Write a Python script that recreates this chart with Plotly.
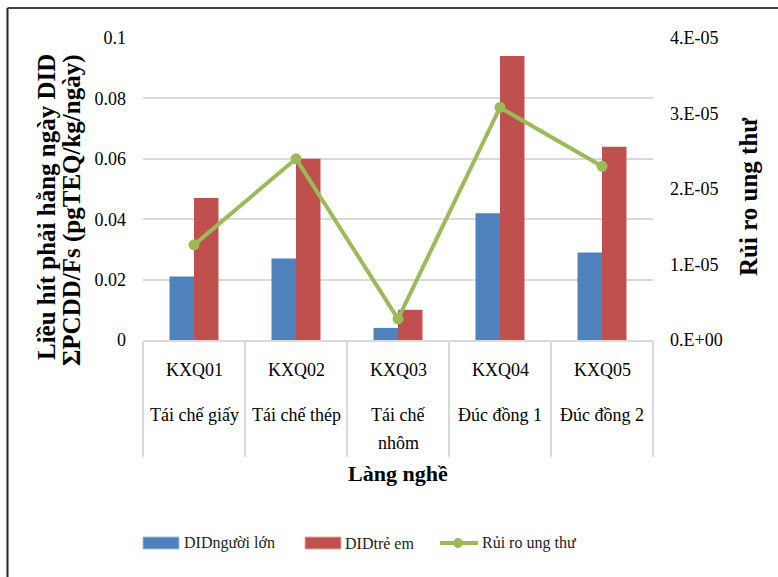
import plotly.graph_objects as go

# Sampling sites and the craft village each belongs to
sites = ["KXQ01", "KXQ02", "KXQ03", "KXQ04", "KXQ05"]
villages = [["Tái chế giấy"], ["Tái chế thép"], ["Tái chế", "nhôm"], ["Đúc đồng 1"], ["Đúc đồng 2"]]

# Daily inhaled dose (pgTEQ/kg/day)
did_adult = [0.021, 0.027, 0.004, 0.042, 0.029]
did_child = [0.047, 0.060, 0.010, 0.094, 0.064]
# Cancer risk (right axis)
cancer_risk = [1.26e-05, 2.40e-05, 2.8e-06, 3.08e-05, 2.30e-05]

risk_ticks = [0, 1e-05, 2e-05, 3e-05, 4e-05]
risk_ticktext = ["0.E+00", "1.E-05", "2.E-05", "3.E-05", "4.E-05"]

BLUE = "#4F81BD"
RED = "#C0504D"
GREEN = "#9BBB59"
GRID = "#D9D9D9"
SERIF = "Liberation Serif, Times New Roman, serif"

W, H = 778, 577
L, R, T, B = 143, 125, 38, 237
PW, PH = W - L - R, H - T - B


def px(x):
    return (x - L) / PW


def py(y):
    return (H - B - y) / PH


fig = go.Figure()
fig.add_trace(go.Bar(x=sites, y=did_adult, name="DIDngười lớn",
                     marker=dict(color=BLUE, line=dict(width=0))))
fig.add_trace(go.Bar(x=sites, y=did_child, name="DIDtrẻ em",
                     marker=dict(color=RED, line=dict(width=0))))
fig.add_trace(go.Scatter(x=sites, y=cancer_risk, name="Rủi ro ung thư", yaxis="y2",
                         mode="lines+markers",
                         line=dict(color=GREEN, width=4),
                         marker=dict(color=GREEN, size=11)))

annotations = []
# Two-level category labels
for i, s in enumerate(sites):
    annotations.append(dict(x=s, xref="x", y=py(370), yref="paper", text=s,
                            showarrow=False, xanchor="center", yanchor="middle",
                            font=dict(family=SERIF, size=18, color="#000")))
    for j, line in enumerate(villages[i]):
        annotations.append(dict(x=s, xref="x", y=py(415 + 28 * j), yref="paper", text=line,
                                showarrow=False, xanchor="center", yanchor="middle",
                                font=dict(family=SERIF, size=18, color="#000")))

# Axis titles
title_font = dict(family=SERIF, size=25, color="#000")
annotations += [
    dict(x=px(398), y=py(473), xref="paper", yref="paper", text="<b>Làng nghề</b>",
         xanchor="center", yanchor="middle", showarrow=False,
         font=dict(family=SERIF, size=22, color="#000")),
    dict(x=px(46), y=py(207), xref="paper", yref="paper", text="<b>Liều hít phải hằng ngày DID</b>",
         xanchor="center", yanchor="middle", textangle=-90, showarrow=False, font=title_font),
    dict(x=px(72), y=py(210), xref="paper", yref="paper", text="<b>ΣPCDD/Fs (pgTEQ/kg/ngày)</b>",
         xanchor="center", yanchor="middle", textangle=-90, showarrow=False, font=title_font),
    dict(x=px(748), y=py(197), xref="paper", yref="paper", text="<b>Rủi ro ung thư</b>",
         xanchor="center", yanchor="middle", textangle=-90, showarrow=False, font=title_font),
]

shapes = [
    # outer frame (left and top edges)
    dict(type="line", xref="paper", yref="paper", x0=px(7.5), x1=px(7.5), y0=py(8), y1=py(H + 5),
         line=dict(color="#222", width=2)),
    dict(type="line", xref="paper", yref="paper", x0=px(7.5), x1=px(W + 5), y0=py(8), y1=py(8),
         line=dict(color="#444", width=2)),
]

# Legend drawn as swatches + labels
legend_y = 543
shapes += [
    dict(type="rect", xref="paper", yref="paper", x0=px(143), x1=px(179), y0=py(537), y1=py(549),
         fillcolor=BLUE, line=dict(color="#A7BFDE", width=1)),
    dict(type="rect", xref="paper", yref="paper", x0=px(305), x1=px(341), y0=py(537), y1=py(549),
         fillcolor=RED, line=dict(color="#E0A8A6", width=1)),
    dict(type="line", xref="paper", yref="paper", x0=px(440), x1=px(478), y0=py(legend_y), y1=py(legend_y),
         line=dict(color=GREEN, width=4)),
    dict(type="circle", xref="paper", yref="paper", x0=px(453.5), x1=px(462.5),
         y0=py(legend_y - 4.5), y1=py(legend_y + 4.5), fillcolor=GREEN, line=dict(color=GREEN, width=1)),
]
for xpos, label in [(182, "DIDngười lớn"), (343, "DIDtrẻ em"), (480, "Rủi ro ung thư")]:
    annotations.append(dict(x=px(xpos), y=py(legend_y), xref="paper", yref="paper", text=label,
                            xanchor="left", yanchor="middle", showarrow=False,
                            font=dict(family=SERIF, size=16, color="#222")))

fig.update_layout(
    width=W, height=H,
    margin=dict(l=L, r=R, t=T, b=B),
    paper_bgcolor="white", plot_bgcolor="white",
    barmode="group", bargap=0.52, bargroupgap=0,
    showlegend=False,
    font=dict(family=SERIF, size=18, color="#000"),
    xaxis=dict(type="category", showticklabels=False, showgrid=False,
               showline=True, linecolor=GRID, linewidth=1.5,
               ticks="outside", tickson="boundaries", ticklen=115,
               tickcolor=GRID, tickwidth=1.5),
    yaxis=dict(range=[0, 0.1], dtick=0.02, tickformat="~g",
               showgrid=True, gridcolor=GRID, gridwidth=1.5,
               zeroline=False, showline=False, ticks="",
               ticklabelstandoff=16,
               tickfont=dict(family=SERIF, size=18, color="#000")),
    yaxis2=dict(range=[0, 4e-05], overlaying="y", side="right",
                tickvals=risk_ticks, ticktext=risk_ticktext,
                showgrid=False, zeroline=False, showline=False, ticks="",
                ticklabelstandoff=16,
                tickfont=dict(family=SERIF, size=18, color="#000")),
    annotations=annotations,
    shapes=shapes,
)

fig.write_html("out.html")
